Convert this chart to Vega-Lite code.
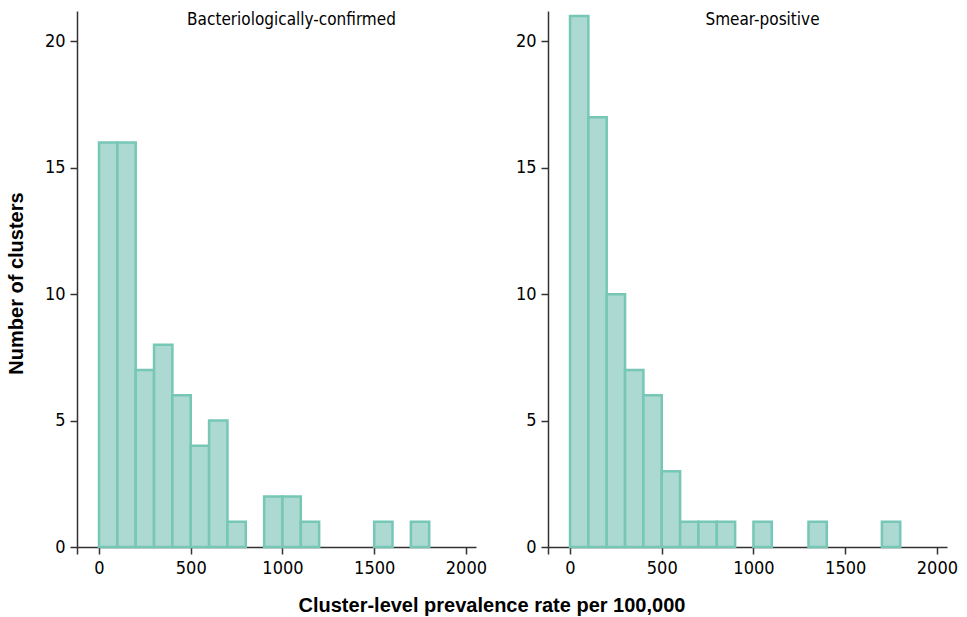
{
  "$schema": "https://vega.github.io/schema/vega-lite/v6.json",
  "background": "white",
  "padding": {"left": 6, "top": 11, "right": 5, "bottom": 0},
  "datasets": {
    "bact": [
      {"bin_start": 0, "bin_end": 100, "count": 16},
      {"bin_start": 100, "bin_end": 200, "count": 16},
      {"bin_start": 200, "bin_end": 300, "count": 7},
      {"bin_start": 300, "bin_end": 400, "count": 8},
      {"bin_start": 400, "bin_end": 500, "count": 6},
      {"bin_start": 500, "bin_end": 600, "count": 4},
      {"bin_start": 600, "bin_end": 700, "count": 5},
      {"bin_start": 700, "bin_end": 800, "count": 1},
      {"bin_start": 900, "bin_end": 1000, "count": 2},
      {"bin_start": 1000, "bin_end": 1100, "count": 2},
      {"bin_start": 1100, "bin_end": 1200, "count": 1},
      {"bin_start": 1500, "bin_end": 1600, "count": 1},
      {"bin_start": 1700, "bin_end": 1800, "count": 1}
    ],
    "smear": [
      {"bin_start": 0, "bin_end": 100, "count": 21},
      {"bin_start": 100, "bin_end": 200, "count": 17},
      {"bin_start": 200, "bin_end": 300, "count": 10},
      {"bin_start": 300, "bin_end": 400, "count": 7},
      {"bin_start": 400, "bin_end": 500, "count": 6},
      {"bin_start": 500, "bin_end": 600, "count": 3},
      {"bin_start": 600, "bin_end": 700, "count": 1},
      {"bin_start": 700, "bin_end": 800, "count": 1},
      {"bin_start": 800, "bin_end": 900, "count": 1},
      {"bin_start": 1000, "bin_end": 1100, "count": 1},
      {"bin_start": 1300, "bin_end": 1400, "count": 1},
      {"bin_start": 1700, "bin_end": 1800, "count": 1}
    ]
  },
  "title": {
    "text": "Cluster-level prevalence rate per 100,000",
    "orient": "bottom",
    "anchor": "middle",
    "font": "Liberation Sans",
    "fontSize": 20,
    "fontWeight": "bold",
    "color": "black",
    "offset": 19,
    "dx": 10
  },
  "spacing": 28,
  "config": {
    "view": {"stroke": null},
    "font": "Liberation Sans",
    "axis": {
      "grid": false,
      "domainColor": "#333333",
      "domainWidth": 1.5,
      "tickColor": "#333333",
      "tickWidth": 1.5,
      "tickSize": 7,
      "labelFont": "Liberation Sans Narrow, DejaVu Sans Condensed, Liberation Sans",
      "labelFontSize": 18,
      "labelColor": "black",
      "labelPadding": 5,
      "titleFont": "Liberation Sans",
      "titleFontSize": 20,
      "titleFontWeight": "bold",
      "titleColor": "black"
    },
    "title": {
      "font": "Liberation Sans Narrow, DejaVu Sans Condensed, Liberation Sans",
      "fontSize": 17,
      "fontWeight": "normal",
      "color": "black"
    }
  },
  "hconcat": [
    {
      "width": 399,
      "height": 536,
      "data": {"name": "bact"},
      "title": {"text": "Bacteriologically-confirmed", "offset": -18, "dx": 15},
      "mark": {"type": "bar", "fill": "#acd9d1", "stroke": "#76c7b6", "strokeWidth": 2.5},
      "encoding": {
        "x": {
          "field": "bin_start",
          "type": "quantitative",
          "scale": {"domain": [-120, 2055], "nice": false, "zero": false},
          "axis": {"title": null, "values": [-120, 0, 500, 1000, 1500, 2000], "labelExpr": "datum.value < 0 ? '' : datum.value", "labelFlush": false}
        },
        "x2": {"field": "bin_end"},
        "y": {
          "field": "count",
          "type": "quantitative",
          "scale": {"domain": [0, 21.2], "nice": false},
          "axis": {"title": "Number of clusters", "values": [0, 5, 10, 15, 20], "titlePadding": 18, "titleY": 272}
        },
        "y2": {"datum": 0}
      }
    },
    {
      "width": 399,
      "height": 536,
      "data": {"name": "smear"},
      "title": {"text": "Smear-positive", "offset": -18, "dx": 15},
      "mark": {"type": "bar", "fill": "#acd9d1", "stroke": "#76c7b6", "strokeWidth": 2.5},
      "encoding": {
        "x": {
          "field": "bin_start",
          "type": "quantitative",
          "scale": {"domain": [-120, 2055], "nice": false, "zero": false},
          "axis": {"title": null, "values": [-120, 0, 500, 1000, 1500, 2000], "labelExpr": "datum.value < 0 ? '' : datum.value", "labelFlush": false}
        },
        "x2": {"field": "bin_end"},
        "y": {
          "field": "count",
          "type": "quantitative",
          "scale": {"domain": [0, 21.2], "nice": false},
          "axis": {"title": null, "values": [0, 5, 10, 15, 20]}
        },
        "y2": {"datum": 0}
      }
    }
  ]
}
